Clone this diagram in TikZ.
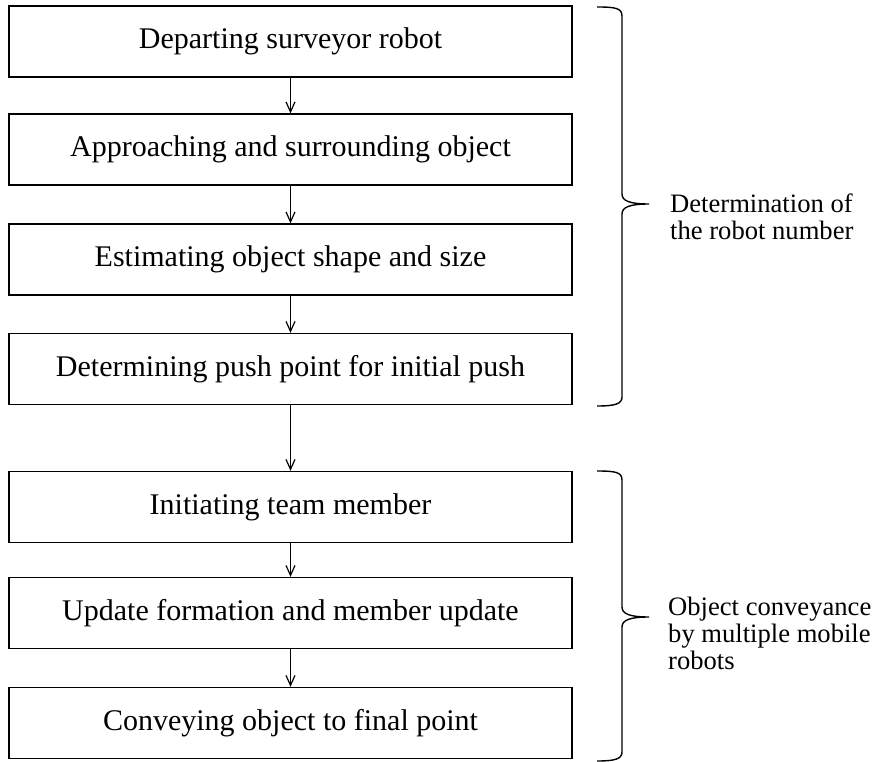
\documentclass[tikz,border=0pt]{standalone}
\usepackage{fontspec}
\setmainfont{Liberation Serif}
\usetikzlibrary{arrows.meta}
\begin{document}
\begin{tikzpicture}[x=1pt,y=-1pt,
  stepbox/.style={draw, line width=1.3pt, minimum width=563pt, minimum height=71pt,
    inner sep=0pt, font=\fontsize{30}{32}\selectfont},
  flow/.style={line width=1.2pt, -{Straight Barb[length=10pt,width=9pt,line width=1.2pt]}},
  bracepath/.style={line width=1.4pt},
  sidetext/.style={anchor=west, align=left, inner sep=0pt,
    font=\fontsize{26.6}{27}\selectfont}]
  \useasboundingbox (0,0) rectangle (878,762);

  % process steps
  \node[stepbox] (s1) at (290.5,41.5) {Departing surveyor robot};
  \node[stepbox] (s2) at (290.5,149.5) {Approaching and surrounding object};
  \node[stepbox] (s3) at (290.5,259.5) {Estimating object shape and size};
  \node[stepbox] (s4) at (290.5,369) {Determining push point for initial push};
  \node[stepbox] (s5) at (290.5,507) {Initiating team member};
  \node[stepbox] (s6) at (290.5,613) {Update formation and member update};
  \node[stepbox] (s7) at (290.5,723) {Conveying object to final point};

  % connectors
  \draw[flow] (s1) -- (s2);
  \draw[flow] (s2) -- (s3);
  \draw[flow] (s3) -- (s4);
  \draw[flow] (s4) -- (s5);
  \draw[flow] (s5) -- (s6);
  \draw[flow] (s6) -- (s7);

  % first phase brace
  \coordinate (b1tip) at (649,204);
  \draw[bracepath] (597,7) .. controls (615,7) and (622,8) .. (622,16)
    -- (622,194) .. controls (622,201) and (630,204) .. (b1tip)
    .. controls (630,204) and (622,207) .. (622,214)
    -- (622,397) .. controls (622,404) and (615,406) .. (597,406);
  \node[sidetext] (t1) at (670,217) {Determination of\\the robot number};

  % second phase brace
  \coordinate (b2tip) at (649,617);
  \draw[bracepath] (597,471) .. controls (615,471) and (622,472) .. (622,480)
    -- (622,607) .. controls (622,614) and (630,617) .. (b2tip)
    .. controls (630,617) and (622,620) .. (622,627)
    -- (622,752) .. controls (622,759) and (615,761) .. (597,761);
  \node[sidetext] (t2) at (668,633) {Object conveyance\\by multiple mobile\\robots};
\end{tikzpicture}
\end{document}
